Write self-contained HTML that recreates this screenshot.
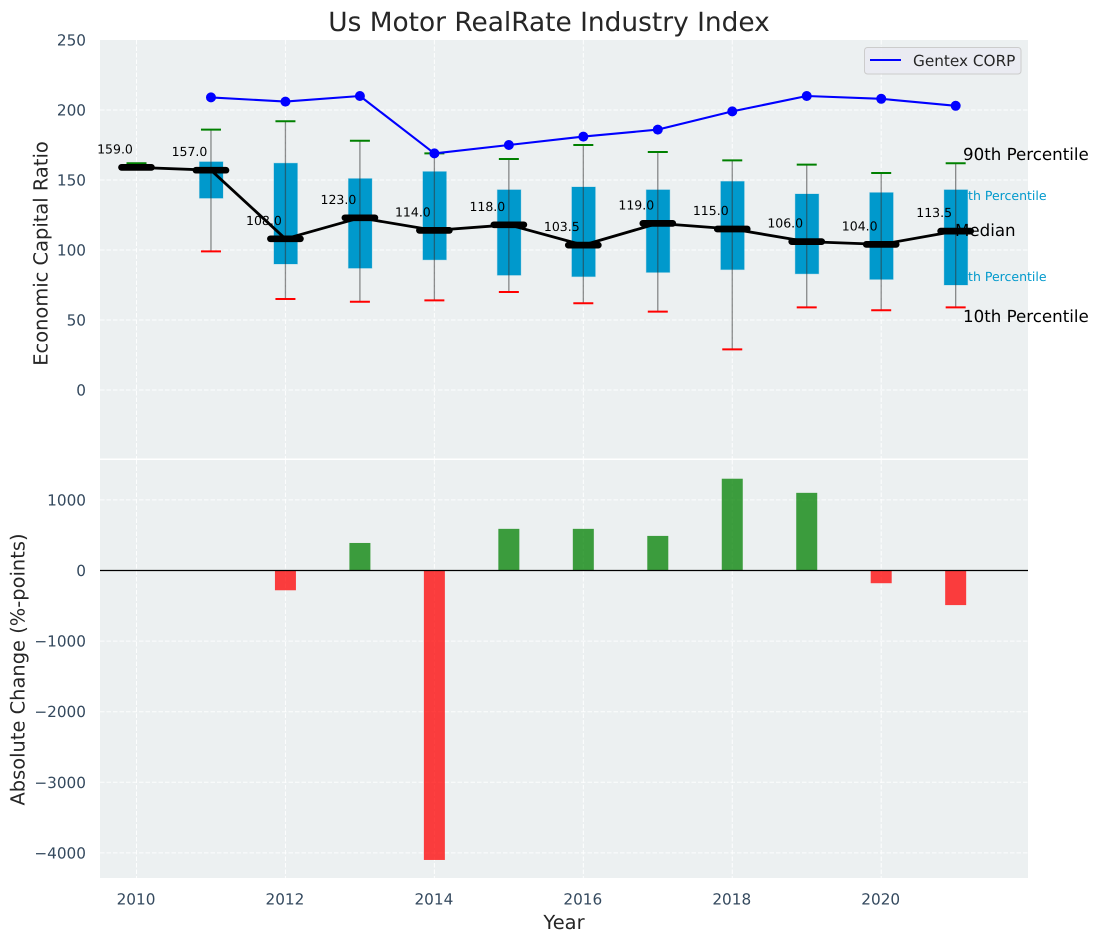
<!DOCTYPE html>
<html lang="en">
<head>
<meta charset="utf-8">
<title>Us Motor RealRate Industry Index</title>
<style>
html,body{margin:0;padding:0;background:#fff;width:1098px;height:942px;overflow:hidden}
svg{display:block;font-family:"DejaVu Sans","Liberation Sans",sans-serif;text-rendering:geometricPrecision}
</style>
</head>
<body>
<svg id="chart" width="1098" height="942" viewBox="0 0 1098 942" xmlns="http://www.w3.org/2000/svg"></svg>
<script>
const years = [2010,2011,2012,2013,2014,2015,2016,2017,2018,2019,2020,2021];
const median = [159,157,108,123,114,118,103.5,119,115,106,104,113.5];
const medianLabels = ["159.0","157.0","108.0","123.0","114.0","118.0","103.5","119.0","115.0","106.0","104.0","113.5"];
const p90 = [162,186,192,178,169,165,175,170,164,161,155,162];
const p10 = [null,99,65,63,64,70,62,56,29,59,57,59];
const p75 = [null,163,162,151,156,143,145,143,149,140,141,143];
const p25 = [null,137,90,87,93,82,81,84,86,83,79,75];
const company = [null,209,206,210,169,175,181,186,199,210,208,203];
const change = [null,null,-280,390,-4100,590,590,490,1300,1100,-180,-490];
const xTicks = [2010,2012,2014,2016,2018,2020];
const yTicksTop = [0,50,100,150,200,250];
const yTicksBottom = [-4000,-3000,-2000,-1000,0,1000];

const NS = 'http://www.w3.org/2000/svg';
const svg = document.getElementById('chart');
const L = 100, R = 1028, T1 = 40, B1 = 458.5, T2 = 460, B2 = 878;
const x = v => 136.5 + (v - 2010) * 74.47;
const y1 = v => 390 - v * 1.4;
const y2 = v => 570.5 - v * 0.0706;

function add(tag, attrs, parent, text) {
  const el = document.createElementNS(NS, tag);
  for (const k in attrs) el.setAttribute(k, attrs[k]);
  if (text !== undefined) el.textContent = text;
  (parent || svg).appendChild(el);
  return el;
}
function group(name) {
  const g = document.createElementNS(NS, 'g');
  
  
  svg.appendChild(g);
  return g;
}
function named(el, name) {
  
  
  return el;
}

/* panels */
named(add('rect', {x:L, y:T1, width:R-L, height:B1-T1, fill:'#ecf0f1'}), 'top-panel');
named(add('rect', {x:L, y:T2, width:R-L, height:B2-T2, fill:'#ecf0f1'}), 'bottom-panel');

/* grid */
const grid = group('grid-lines');
const gridStyle = {stroke:'#ffffff', 'stroke-width':1, 'stroke-dasharray':'4.5 2', 'stroke-opacity':0.9};
xTicks.forEach(t => {
  add('line', {x1:x(t), x2:x(t), y1:T1, y2:B1, ...gridStyle}, grid);
  add('line', {x1:x(t), x2:x(t), y1:T2, y2:B2, ...gridStyle}, grid);
});
yTicksTop.forEach(t => {
  if (t < 250) add('line', {x1:L, x2:R, y1:y1(t), y2:y1(t), ...gridStyle}, grid);
});
yTicksBottom.forEach(t => {
  add('line', {x1:L, x2:R, y1:y2(t), y2:y2(t), ...gridStyle}, grid);
});

/* tick labels */
const tickFill = '#34495e';
const tickSize = 15.28;
const tickGroup = group('tick-labels');
yTicksTop.forEach(t => {
  const el = add('text', {x:86, y:y1(t)+5.5, 'text-anchor':'end', 'font-size':tickSize, fill:tickFill}, tickGroup, String(t));
  
  
});
yTicksBottom.forEach(t => {
  const el = add('text', {x:86, y:y2(t)+5.5, 'text-anchor':'end', 'font-size':tickSize, fill:tickFill}, tickGroup, String(t).replace('-', '\u2212'));
  
  
});
xTicks.forEach(t => {
  const el = add('text', {x:x(t)-0.5, y:904.5, 'text-anchor':'middle', 'font-size':tickSize, fill:tickFill}, tickGroup, String(t));
  
  
});

/* titles */
named(add('text', {x:549, y:31, 'text-anchor':'middle', 'font-size':26.4, fill:'#262626'}, svg, 'Us Motor RealRate Industry Index'), 'chart-title');
named(add('text', {x:564, y:929, 'text-anchor':'middle', 'font-size':19.44, fill:'#262626'}, svg, 'Year'), 'x-axis-title');
named(add('text', {x:0, y:0, transform:'translate(47.5,253.5) rotate(-90)', 'text-anchor':'middle', 'font-size':19.44, fill:'#262626'}, svg, 'Economic Capital Ratio'), 'y-axis-title-top');
named(add('text', {x:0, y:0, transform:'translate(24.5,669.5) rotate(-90)', 'text-anchor':'middle', 'font-size':19.44, fill:'#262626'}, svg, 'Absolute Change (%-points)'), 'y-axis-title-bottom');

/* percentile side labels under boxes */
const last = years.length - 1;
named(add('text', {x:x(years[last])-3.5, y:y1(p75[last])+10, 'font-size':12.5, fill:'#0099cc'}, svg, '75th Percentile'), 'label-75th-percentile');
named(add('text', {x:x(years[last])-3.5, y:y1(p25[last])-4, 'font-size':12.5, fill:'#0099cc'}, svg, '25th Percentile'), 'label-25th-percentile');

/* boxes */
const boxes = group('percentile-boxes');
years.forEach((yr, i) => {
  if (p75[i] === null) return;
  const el = add('rect', {x:x(yr)-11.5, y:y1(p75[i]), width:23.5, height:y1(p25[i])-y1(p75[i]), fill:'#0099cc', stroke:'#0099cc', 'stroke-opacity':0.25, 'stroke-width':1}, boxes);
  
  
});

/* whiskers */
const whiskers = group('whiskers');
years.forEach((yr, i) => {
  if (p10[i] !== null) {
    const w = add('line', {x1:x(yr), x2:x(yr), y1:y1(p90[i]), y2:y1(p10[i]), stroke:'#333', 'stroke-opacity':0.55, 'stroke-width':1.3}, whiskers);
    
    
    const lo = add('line', {x1:x(yr)-10, x2:x(yr)+10, y1:y1(p10[i]), y2:y1(p10[i]), stroke:'#ff0000', 'stroke-width':2}, whiskers);
    
    
  }
  const hi = add('line', {x1:x(yr)-10, x2:x(yr)+10, y1:y1(p90[i]), y2:y1(p90[i]), stroke:'#008000', 'stroke-width':2}, whiskers);
  
  
});

/* percentile side labels */
named(add('text', {x:963, y:160, 'font-size':16.67, fill:'#000'}, svg, '90th Percentile'), 'label-90th-percentile');
named(add('text', {x:955, y:236, 'font-size':16.67, fill:'#000'}, svg, 'Median'), 'label-median');
named(add('text', {x:963, y:322, 'font-size':16.67, fill:'#000'}, svg, '10th Percentile'), 'label-10th-percentile');

/* median line */
const medianGroup = group('median-series');
add('polyline', {points:years.map((yr,i)=>x(yr)+','+y1(median[i])).join(' '), fill:'none', stroke:'#000', 'stroke-width':2.8, 'stroke-linejoin':'round'}, medianGroup);
years.forEach((yr, i) => {
  const m = add('line', {x1:x(yr)-15, x2:x(yr)+15, y1:y1(median[i]), y2:y1(median[i]), stroke:'#000', 'stroke-width':6.7, 'stroke-linecap':'round'}, medianGroup);
  
  
  const t = add('text', {x:x(yr)-21.5, y:y1(median[i])-14, 'text-anchor':'middle', 'font-size':12.5, fill:'#000'}, medianGroup, medianLabels[i]);
  
  
});

/* company line */
const companyGroup = group('gentex-series');
const pts = years.map((yr,i)=>company[i]===null?null:x(yr)+','+y1(company[i])).filter(Boolean).join(' ');
add('polyline', {points:pts, fill:'none', stroke:'#0000ff', 'stroke-width':2.1, 'stroke-linejoin':'round'}, companyGroup);
years.forEach((yr, i) => {
  if (company[i] === null) return;
  const c = add('circle', {cx:x(yr), cy:y1(company[i]), r:5, fill:'#0000ff'}, companyGroup);
  
  
});

/* change bars */
const bars = group('change-bars');
years.forEach((yr, i) => {
  if (change[i] === null) return;
  const v = change[i];
  const top = v >= 0 ? y2(v) : y2(0);
  const h = Math.abs(y2(v) - y2(0));
  const b = add('rect', {x:x(yr)-10.5, y:top, width:21, height:h, fill:v >= 0 ? '#008000' : '#ff0000', 'fill-opacity':0.75}, bars);
  
  
});
named(add('line', {x1:L, x2:R, y1:y2(0), y2:y2(0), stroke:'#000', 'stroke-width':1.3}), 'zero-line');

/* legend */
const legend = group('legend');
add('rect', {x:864.5, y:47.5, width:156.5, height:26.5, rx:3, fill:'#eaeaf2', 'fill-opacity':0.85, stroke:'#cccccc'}, legend);
add('line', {x1:870, x2:901, y1:60, y2:60, stroke:'#0000ff', 'stroke-width':2}, legend);
add('text', {x:913, y:66, 'font-size':15.28, fill:'#262626'}, legend, 'Gentex CORP');
</script>
</body>
</html>
